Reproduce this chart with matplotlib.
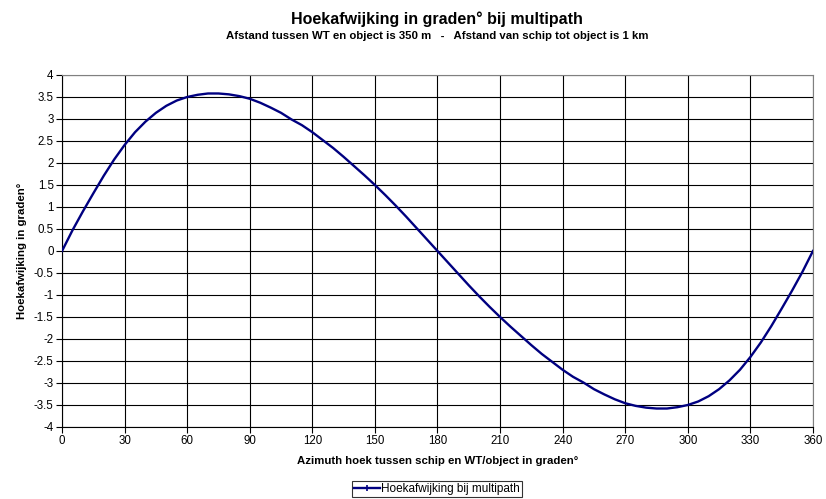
import matplotlib
matplotlib.use("Agg")
import matplotlib.pyplot as plt
from matplotlib.lines import Line2D

plt.rcParams['font.family'] = ['Liberation Sans', 'DejaVu Sans']

# azimuth angle (degrees) and angle deviation (degrees)
azimuth = list(range(0, 361, 5))
deviation = [
    0.00, 0.47, 0.90, 1.31, 1.71, 2.08, 2.41, 2.70, 2.94, 3.14,
    3.30, 3.42, 3.50, 3.55, 3.58, 3.58, 3.56, 3.52, 3.46, 3.37,
    3.26, 3.14, 2.99, 2.86, 2.70, 2.52, 2.34, 2.14, 1.93, 1.72,
    1.50, 1.27, 1.03, 0.78, 0.52, 0.26, 0.00,
    -0.26, -0.52, -0.78, -1.03, -1.27, -1.50, -1.72, -1.93, -2.14,
    -2.34, -2.52, -2.70, -2.86, -2.99, -3.14, -3.26, -3.37, -3.46,
    -3.52, -3.56, -3.58, -3.58, -3.55, -3.50, -3.42, -3.30, -3.14,
    -2.94, -2.70, -2.41, -2.08, -1.71, -1.31, -0.90, -0.47, 0.00,
]
x_ticks = list(range(0, 361, 30))
y_ticks = [v / 2 for v in range(-8, 9)]

fig = plt.figure(figsize=(8.26, 4.99), dpi=100)
ax = fig.add_axes([0.0751, 0.1443, 0.9091, 0.7054])

ax.plot(azimuth, deviation, color='#000080', lw=1.7, zorder=3)

ax.set_xlim(0, 360)
ax.set_ylim(-4, 4)
ax.set_xticks(x_ticks)
ax.set_yticks(y_ticks)
ax.set_yticklabels([f'{v:g}' for v in y_ticks])
ax.tick_params(labelsize=8.3, length=4, width=0.8, color='black', pad=2)
ax.grid(True, color='black', lw=0.8)
ax.set_axisbelow(True)
for s in ax.spines.values():
    s.set_color('#808080')
    s.set_linewidth(0.8)
ax.spines['left'].set_color('black')
ax.spines['bottom'].set_color('black')

ax.set_xlabel('Azimuth hoek tussen schip en WT/object in graden°',
              fontsize=8.2, fontweight='bold', labelpad=6)
ax.set_ylabel('Hoekafwijking in graden°', fontsize=8.2, fontweight='bold',
              labelpad=5)

fig.text(0.529, 0.961, 'Hoekafwijking in graden° bij multipath',
         ha='center', va='center', fontsize=11.5, fontweight='bold')
fig.text(0.529, 0.927,
         'Afstand tussen WT en object is 350 m   -   Afstand van schip tot object is 1 km',
         ha='center', va='center', fontsize=8.2, fontweight='bold')

handle = Line2D([], [], color='#000080', lw=1.7, marker='|', ms=4, mew=1.2)
leg = fig.legend([handle], ['Hoekafwijking bij multipath'], loc='lower center',
                 bbox_to_anchor=(0.529, 0.0), fontsize=8.5,
                 frameon=True, fancybox=False, edgecolor='black',
                 handlelength=2.2, handletextpad=0.1, borderpad=0.15,
                 borderaxespad=0.2)
leg.get_frame().set_linewidth(0.8)

fig.savefig('out.png', dpi=100)
